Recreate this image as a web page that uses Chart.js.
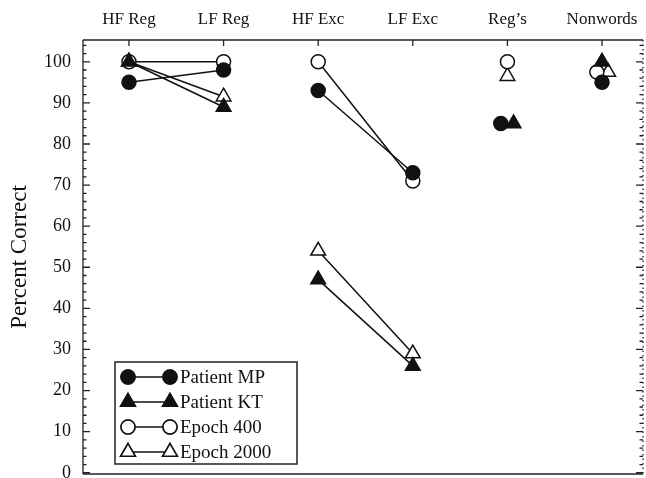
<!DOCTYPE html>
<html>
<head>
<meta charset="utf-8">
<script src="https://cdn.jsdelivr.net/npm/chart.js@4"></script>
<style>
  html, body { margin: 0; padding: 0; background: #fff; }
  #wrap { width: 646px; height: 478px; }
</style>
</head>
<body>
<div id="wrap"><canvas id="chart" width="646" height="478"></canvas></div>
<script>
// categories along the top axis
const categories = ['HF Reg', 'LF Reg', 'HF Exc', 'LF Exc', 'Reg\u2019s', 'Nonwords'];
const yTicks = [0, 10, 20, 30, 40, 50, 60, 70, 80, 90, 100];

// percent correct per category
const patientMP = [95, 98, 93, 73, 85, 95];
const patientKT = [100, 89, 47, 26, 85, 100];
const epoch400 = [100, 100, 100, 71, 100, 97.5];
const epoch2000 = [100, 91.5, 54, 29, 96.5, 97.5];

// small horizontal nudges used where symbols overlap
const offMP = [0, 0, 0, 0, -0.07, 0];
const offKT = [0, 0, 0, 0, 0.065, 0];
const off400 = [0, 0, 0, 0, 0, -0.055];
const off2000 = [0, 0, 0, 0, 0, 0.065];

// lines join HF->LF pairs only
const breakAfter = [1, 3, 4];

const FONT = '"Liberation Serif", "Times New Roman", serif';

function points(vals, offs) {
  const out = [];
  vals.forEach((v, i) => {
    out.push({ x: i + offs[i], y: v });
    if (breakAfter.includes(i)) out.push({ x: i + 0.5, y: null });
  });
  return out;
}

function ds(label, vals, offs, style, filled, r) {
  return {
    label,
    data: points(vals, offs),
    borderColor: '#111',
    borderWidth: 1.5,
    pointStyle: style,
    pointRadius: r,
    pointHoverRadius: r,
    pointBorderWidth: 1.5,
    pointBorderColor: '#111',
    pointBackgroundColor: filled ? '#111' : '#fff',
    spanGaps: false,
    showLine: true,
  };
}

const frame = {
  id: 'frame',
  afterDraw(chart) {
    const { ctx, chartArea: a, scales: { x, y } } = chart;
    ctx.save();
    ctx.strokeStyle = '#222';
    ctx.lineWidth = 1.3;
    // box: left, top, bottom solid; right dotted
    ctx.beginPath();
    ctx.moveTo(a.left, a.top); ctx.lineTo(a.right, a.top);
    ctx.moveTo(a.left, a.top); ctx.lineTo(a.left, a.bottom);
    ctx.moveTo(a.left, a.bottom); ctx.lineTo(a.right, a.bottom);
    ctx.stroke();
    ctx.setLineDash([1.5, 3]);
    ctx.beginPath();
    ctx.moveTo(a.right, a.top); ctx.lineTo(a.right, a.bottom);
    ctx.stroke();
    ctx.setLineDash([]);
    // y ticks, inside, major every 10 and minor every 2
    ctx.beginPath();
    for (let v = 0; v <= 104; v += 2) {
      const py = y.getPixelForValue(v);
      const len = v % 10 === 0 ? 7 : 3.5;
      ctx.moveTo(a.left, py); ctx.lineTo(a.left + len, py);
      ctx.moveTo(a.right, py); ctx.lineTo(a.right - len, py);
    }
    // x ticks at the top
    categories.forEach((c, i) => {
      const px = x.getPixelForValue(i);
      ctx.moveTo(px, a.top); ctx.lineTo(px, a.top + 6);
    });
    ctx.stroke();

    // legend box
    const L = 115, T = 362, R = 297, B = 464;
    ctx.fillStyle = '#fff';
    ctx.fillRect(L, T, R - L, B - T);
    ctx.lineWidth = 1.5;
    ctx.strokeRect(L, T, R - L, B - T);
    const rows = chart.data.datasets;
    const rowY = [377, 402, 427, 452];
    rows.forEach((d, i) => {
      const yy = rowY[i];
      ctx.strokeStyle = '#111';
      ctx.lineWidth = 1.5;
      ctx.beginPath();
      ctx.moveTo(128, yy); ctx.lineTo(170, yy);
      ctx.stroke();
      [128, 170].forEach(px => {
        Chart.helpers.drawPoint(ctx, {
          pointStyle: d.pointStyle, radius: d.pointRadius, rotation: 0, borderWidth: 1.5,
        }, px, yy);
        ctx.fillStyle = d.pointBackgroundColor;
        ctx.fill();
        ctx.stroke();
      });
      ctx.fillStyle = '#111';
      ctx.font = `19px ${FONT}`;
      ctx.textBaseline = 'middle';
      ctx.textAlign = 'left';
      ctx.fillText(d.label, 180, yy + 1);
    });
    ctx.restore();
  },
};

new Chart(document.getElementById('chart'), {
  type: 'scatter',
  data: {
    datasets: [
      ds('Patient MP', patientMP, offMP, 'circle', true, 7),
      ds('Patient KT', patientKT, offKT, 'triangle', true, 8.5),
      ds('Epoch 400', epoch400, off400, 'circle', false, 7),
      ds('Epoch 2000', epoch2000, off2000, 'triangle', false, 8.5),
    ],
  },
  options: {
    responsive: false,
    animation: false,
    layout: { autoPadding: false, padding: { top: 0, right: 3, bottom: 4, left: 0 } },
    plugins: { legend: { display: false }, tooltip: { enabled: false } },
    scales: {
      x: {
        type: 'linear',
        position: 'top',
        min: -0.486,
        max: 5.433,
        afterBuildTicks: s => { s.ticks = categories.map((c, i) => ({ value: i })); },
        afterFit: s => { s.height = 40; s.paddingLeft = 0; s.paddingRight = 0; },
        ticks: {
          callback: v => categories[v],
          color: '#111',
          font: { family: FONT, size: 17 },
          maxRotation: 0,
          autoSkip: false,
          padding: 10,
        },
        grid: { display: false, drawTicks: false },
        border: { display: false },
      },
      y: {
        min: -0.3,
        max: 105.3,
        afterBuildTicks: s => { s.ticks = yTicks.map(v => ({ value: v })); },
        afterFit: s => { s.width = 83; s.paddingTop = 0; s.paddingBottom = 0; },
        ticks: {
          color: '#111',
          font: { family: FONT, size: 18 },
          padding: 12,
        },
        title: {
          display: true,
          text: 'Percent Correct',
          color: '#111',
          font: { family: FONT, size: 23 },
          padding: { top: 6, bottom: 4 },
        },
        grid: { display: false, drawTicks: false },
        border: { display: false },
      },
    },
  },
  plugins: [frame],
});
</script>
</body>
</html>
